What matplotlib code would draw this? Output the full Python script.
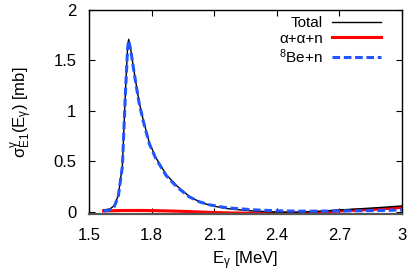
import matplotlib
matplotlib.use("Agg")
import matplotlib.pyplot as plt
import numpy as np

plt.rcParams['font.family'] = ['Liberation Sans', 'DejaVu Sans']
plt.rcParams['mathtext.fontset'] = 'custom'
plt.rcParams['mathtext.rm'] = 'Liberation Sans'
plt.rcParams['mathtext.it'] = 'Liberation Sans'
plt.rcParams['mathtext.bf'] = 'Liberation Sans:bold'

# Energies (MeV)
energy = [1.57, 1.60, 1.62, 1.64, 1.66, 1.675, 1.685, 1.69, 1.70, 1.72, 1.74, 1.76,
          1.79, 1.82, 1.87, 1.92, 1.98, 2.03, 2.08, 2.15, 2.2, 2.3, 2.4, 2.5,
          2.6, 2.7, 2.8, 2.9, 3.0]
# 8Be+n channel (mb)
be8n = [0.01, 0.02, 0.05, 0.15, 0.45, 1.20, 1.62, 1.70, 1.60, 1.33, 1.08, 0.90,
        0.67, 0.53, 0.36, 0.25, 0.15, 0.10, 0.07, 0.045, 0.035, 0.02, 0.012, 0.008,
        0.008, 0.01, 0.012, 0.015, 0.02]
# alpha+alpha+n channel (mb)
aan = [0.01, 0.012, 0.013, 0.014, 0.015, 0.015, 0.015, 0.015, 0.015, 0.015, 0.015, 0.015,
       0.014, 0.013, 0.011, 0.008, 0.004, 0.0, -0.004, -0.008, -0.01, -0.012, -0.012, -0.01,
       -0.002, 0.01, 0.02, 0.03, 0.045]
# Total (mb)
total = [0.02, 0.03, 0.06, 0.16, 0.46, 1.21, 1.63, 1.71, 1.61, 1.34, 1.09, 0.91,
         0.68, 0.54, 0.37, 0.26, 0.155, 0.10, 0.066, 0.037, 0.025, 0.008, 0.0, -0.002,
         0.006, 0.02, 0.032, 0.045, 0.06]

fig = plt.figure(figsize=(4.09, 2.74), dpi=100)
ax = fig.add_axes([89/409, 1-214/274, (402-89)/409, (214-10)/274])

ax.plot(energy, total, color='black', lw=1.0, label='Total', zorder=3)
ax.plot(energy, aan, color='#ff0000', lw=2.2, label='\u03b1+\u03b1+n', zorder=2)
ax.plot(energy, be8n, color='#2255ff', lw=2.2, ls=(0, (2.5, 1.2)), label=r'$^8$Be+n', zorder=4)

ax.set_xlim(1.5, 3.0)
ax.set_ylim(-0.02, 2.0)
ax.set_xticks([1.5, 1.8, 2.1, 2.4, 2.7, 3.0])
ax.set_xticklabels(['1.5', '1.8', '2.1', '2.4', '2.7', '3'])
ax.set_yticks([0, 0.5, 1, 1.5, 2])
ax.set_yticklabels(['0', '0.5', '1', '1.5', '2'])
ax.tick_params(direction='in', top=True, right=True, labelsize=12, length=4, width=0.8)
ax.tick_params(axis='x', pad=10)
ax.tick_params(axis='y', pad=9)
for s in ax.spines.values():
    s.set_linewidth(1.0)
ax.spines['bottom'].set_color('#555555')
ax.spines['bottom'].set_linewidth(1.6)

ax.set_xlabel(r'E$_{\mathrm{\gamma}}$ [MeV]', fontsize=12, labelpad=5)
ax.set_ylabel(r'$\mathrm{\sigma^{\gamma}_{E1}}$(E$_{\mathrm{\gamma}}$) [mb]', fontsize=12, labelpad=13)

leg = ax.legend(loc='upper right', bbox_to_anchor=((381-89)/313, (214-16)/204),
                frameon=False, markerfirst=False, fontsize=11, borderpad=0, borderaxespad=0,
                handlelength=3.2, labelspacing=0.1, handletextpad=0.6)
for t in leg.get_texts():
    t.set_ha('right')

fig.savefig('out.png', dpi=100)
